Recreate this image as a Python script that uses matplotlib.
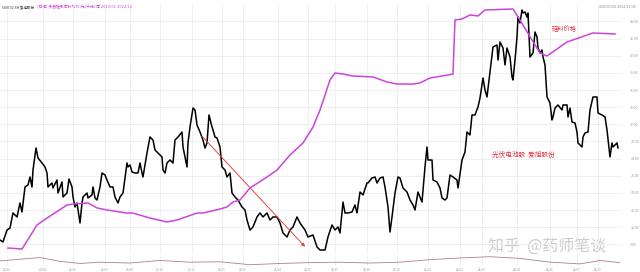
#!/usr/bin/env python

import matplotlib
matplotlib.use('Agg')
import matplotlib.pyplot as plt

plt.rcParams['font.family'] = ['Noto Sans CJK SC', 'DejaVu Sans']

# Datos: dia de negociacion y precio del accion (爱旭股份)
stock_day = [0, 3, 7, 10, 13, 17, 20, 22, 25, 28, 30, 32, 33, 36, 38, 42, 45, 47, 48, 52,
             53, 57, 58, 62, 63, 67, 69, 72, 73, 75, 77, 80, 82, 83, 87, 88, 92, 93, 95, 97,
             100, 102, 105, 107, 110, 113, 115, 118, 120, 123, 127, 128, 130, 132, 135, 138, 140, 142, 143, 147,
             150, 153, 155, 158, 162, 163, 165, 167, 170, 173, 175, 178, 182, 183, 187, 188, 190, 193, 195, 197,
             200, 203, 205, 207, 209, 212, 213, 215, 217, 220, 222, 225, 227, 230, 232, 235, 238, 242, 245, 247,
             250, 253, 257, 260, 263, 267, 270, 273, 277, 280, 283, 287, 290, 293, 297, 300, 305, 308, 313, 317,
             320, 325, 328, 332, 335, 338, 340, 343, 345, 348, 352, 355, 357, 360, 363, 367, 368, 372, 375, 377,
             380, 383, 385, 388, 390, 392, 395, 398, 400, 403, 407, 410, 413, 415, 418, 422, 425, 427, 428, 432,
             433, 437, 440, 442, 445, 447, 450, 453, 457, 458, 462, 465, 467, 470, 472, 475, 478, 480, 483, 485,
             487, 490, 493, 497, 498, 500, 503, 505, 507, 510, 512, 513, 515, 517, 518, 520, 522, 523, 525, 527,
             528, 530, 533, 535, 537, 538, 540, 542, 543, 545, 547, 550, 552, 553, 555, 558, 562, 563, 567, 568,
             570, 572, 575, 577, 578, 582, 583, 585, 588, 590, 593, 597, 598, 602, 605, 607, 610, 612, 613, 617,
             618]
stock_price = [9.75, 9.40, 11.50, 11.85, 14.48, 13.78, 16.23, 14.65, 19.03, 19.38, 20.78, 19.03, 22.00, 25.85, 24.10, 23.23, 22.53, 21.48, 19.03, 19.73,
               18.85, 20.25, 17.98, 19.90, 17.28, 17.98, 20.43, 19.03, 17.28, 15.53, 16.23, 12.73, 16.23, 17.28, 17.98, 17.10, 17.63, 19.03, 17.10, 16.75,
               19.03, 21.48, 21.13, 20.25, 19.03, 19.03, 17.28, 16.23, 17.28, 17.98, 23.23, 22.53, 22.88, 21.65, 21.48, 21.48, 23.23, 21.48, 20.78, 24.98,
               27.78, 27.25, 25.50, 24.98, 24.28, 22.00, 21.48, 23.23, 23.75, 23.23, 27.25, 27.78, 28.65, 26.03, 22.53, 26.73, 29.53, 32.85, 32.50, 29.88,
               28.65, 27.25, 25.85, 26.73, 31.63, 29.53, 29.00, 27.78, 27.60, 26.03, 22.53, 22.00, 20.78, 21.48, 17.98, 17.28, 16.75, 15.53, 15.00, 13.25,
               11.50, 12.03, 13.78, 14.48, 13.78, 14.48, 13.25, 13.78, 13.78, 12.73, 10.98, 10.28, 11.50, 12.03, 13.78, 12.73, 11.50, 10.28, 10.63, 8.53,
               8.00, 8.00, 10.28, 12.38, 11.50, 12.03, 10.98, 16.40, 14.48, 14.48, 14.65, 15.88, 14.48, 18.15, 17.63, 19.73, 19.73, 20.60, 20.78, 19.73,
               20.60, 20.78, 19.03, 15.53, 11.15, 13.78, 17.98, 20.78, 20.60, 18.85, 18.15, 16.75, 15.88, 15.00, 18.15, 16.40, 22.53, 26.03, 23.75, 23.75,
               20.25, 19.90, 18.85, 17.10, 16.75, 17.10, 21.13, 20.78, 20.25, 18.85, 23.75, 25.15, 28.65, 28.13, 31.63, 31.63, 33.03, 34.60, 38.10, 36.00,
               34.78, 39.15, 43.53, 43.88, 41.25, 44.40, 43.35, 40.38, 43.35, 41.78, 38.28, 37.75, 41.25, 45.28, 48.78, 47.73, 50.00, 49.48, 49.65, 48.78,
               49.48, 41.78, 42.48, 46.15, 45.28, 43.35, 42.48, 43.00, 41.78, 40.38, 34.78, 33.73, 30.75, 31.28, 32.85, 33.38, 32.50, 33.38, 33.38, 31.28,
               32.85, 30.40, 30.23, 28.65, 26.73, 26.03, 27.78, 28.48, 28.65, 32.50, 34.78, 34.78, 31.98, 31.63, 31.28, 29.00, 24.28, 26.73, 26.03, 26.73,
               25.85]

# Precio del silicio (硅料价格), eje derecho
si_day = [8, 22, 37, 47, 67, 73, 88, 97, 107, 127, 133, 150, 167, 177, 197, 203, 220, 227, 233, 240,
          250, 267, 277, 290, 303, 313, 320, 330, 335, 343, 353, 373, 387, 397, 413, 420, 430, 448, 453, 455,
          462, 470, 478, 485, 513, 520, 532, 540, 547, 567, 593, 615]
si_price = [61.0, 60.0, 84.5, 91.6, 104.9, 105.9, 107.0, 101.9, 99.8, 96.7, 96.7, 91.6, 87.6, 89.6, 96.7, 96.7, 100.8, 102.9, 108.0, 110.0,
            122.3, 133.5, 140.6, 156.0, 168.2, 184.5, 201.9, 232.5, 239.7, 238.6, 236.6, 235.6, 230.5, 228.4, 228.4, 229.5, 234.6, 237.6, 238.6, 293.8,
            294.8, 298.9, 297.9, 304.0, 305.0, 293.8, 273.3, 260.1, 257.0, 271.3, 280.5, 279.5]

# Indicador inferior
ind_day = [0, 20, 40, 60, 80, 100, 130, 160, 190, 220, 250, 280, 310, 340, 370, 400, 430, 460, 490, 520, 550, 580, 600, 620]
ind_val = [1.2, 1.6, 2.0, 1.1, 0.6, 0.9, 0.7, 1.3, 0.9, 1.0, 0.3, 0.6, 0.8, 0.9, 0.7, 0.9, 1.5, 1.9, 2.2, 1.8, 0.9, 0.5, 1.3, 0.8]

# Flecha de tendencia
arrow_day = [200, 307]
arrow_price = [28.3, 8.2]

date_pos = [7, 43, 73, 105, 130, 160, 192, 222, 243, 278, 308, 335, 367, 397, 428, 460, 482, 517, 550, 577, 598]
date_labels = ['20/02', '20/04', '20/05', '20/07', '20/08', '20/10', '20/11', '21/01', '21/02', '21/04', '21/05',
               '21/07', '21/08', '21/10', '21/11', '22/01', '22/02', '22/04', '22/06', '22/07', '22/09']

price_ticks = [9, 12, 15, 18, 21, 24, 27, 30, 33, 36, 39, 42, 45, 48]

W, H = 640, 272
fig = plt.figure(figsize=(W / 100, H / 100), dpi=100)

ax = fig.add_axes([0, (H - 253) / H, 622 / W, 249 / H])
ax.plot(stock_day, stock_price, color='black', lw=1.1, zorder=3)
ax.set_xlim(0, 622)
ax.set_ylim(7.475, 51.05)
ax.set_xticks(date_pos)
ax.set_xticklabels([])
ax.grid(color='#eeeeee', lw=0.6)
for s in ax.spines.values():
    s.set_visible(False)

ax2 = ax.twinx()
ax2.plot(si_day, si_price, color='#cc44dd', lw=1.1)
ax2.set_ylim(55.92, 310.1)
ax2.set_yticks([])
for s in ax2.spines.values():
    s.set_visible(False)

# twinx mueve los ticks a la izquierda, se regresan a la derecha
ax.set_yticks(price_ticks)
ax.yaxis.tick_right()
ax.set_yticklabels(['%.2f' % p for p in price_ticks], fontsize=2.5, color='#999999')
ax.tick_params(length=0, pad=6)

ax.annotate('', xy=(arrow_day[1], arrow_price[1]), xytext=(arrow_day[0], arrow_price[0]),
            arrowprops=dict(arrowstyle='-|>', color='#e04848', lw=0.7, mutation_scale=5))

ax.text(552, 46.7, '硅料价格', color='#e03040', fontsize=4.5, va='center')
ax.text(492, 24.6, '光伏电池股  爱旭股份', color='#e03040', fontsize=4.8, va='center')
ax.text(488, 8.6, '知乎  @药师笔谈', color='#cccccc', fontsize=11.5, va='center', zorder=0)

# Panel inferior
axb = fig.add_axes([0, (H - 266) / H, 622 / W, 11 / H])
axb.plot(ind_day, ind_val, color='#b08080', lw=0.6)
axb.set_xlim(0, 622)
axb.set_ylim(0, 2.6)
axb.set_xticks(date_pos)
axb.set_xticklabels(date_labels, fontsize=2.2, color='#999999')
axb.set_yticks([])
axb.tick_params(length=0, pad=1)
axb.grid(axis='x', color='#eeeeee', lw=0.6)
for s in axb.spines.values():
    s.set_visible(False)

fig.text(0.003, 0.975, '600732.SH 爱旭股份', fontsize=2.5, color='#333333', va='center')
fig.text(0.058, 0.975, '(右轴) 多晶硅致密料均价(元/千克) 周 2020/01-2022/12', fontsize=2.8, color='#cc44dd', va='center')
fig.text(0.995, 0.975, '2020/01/02-2022/12/30', fontsize=2.5, color='#888888', va='center', ha='right')

fig.savefig('out.png', dpi=100)
